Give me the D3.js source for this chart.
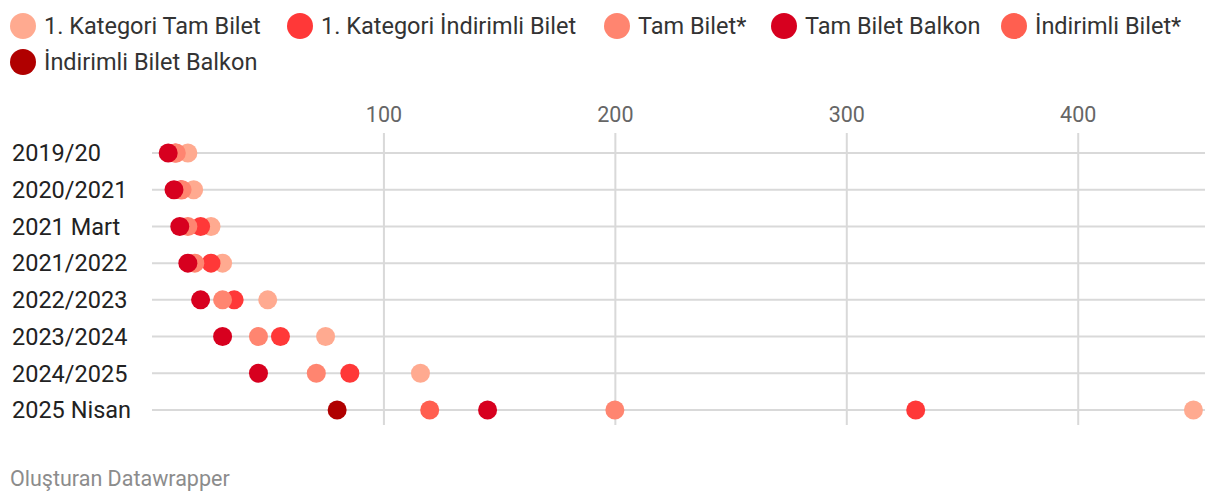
<!DOCTYPE html>
<html><head><meta charset="utf-8">
<script src="https://cdn.jsdelivr.net/npm/d3@7"></script>
<style>
html,body{margin:0;padding:0;background:#fff;}
svg{display:block;font-family:Roboto,"Noto Sans",sans-serif;}
</style></head>
<body>
<script>
const categories = ["2019/20","2020/2021","2021 Mart","2021/2022","2022/2023","2023/2024","2024/2025","2025 Nisan"];
const seriesNames = ["1. Kategori Tam Bilet","1. Kategori İndirimli Bilet","Tam Bilet*","Tam Bilet Balkon","İndirimli Bilet*","İndirimli Bilet Balkon"];
const seriesColors = ["#ffaa90","#ff3838","#ff8570","#d7001f","#ff5f50","#b00000"];
const kategoriTam      = [15.5, 18, 25.5, 30.5, 50, 75, 116, 450];
const kategoriIndirimli= [10, 12.5, 21, 25.5, 35.5, 55.5, 85.5, 330];
const tamBilet         = [10.5, 13, 15.5, 18.5, 30.5, 46, 71, 200];
const tamBalkon        = [7, 9.5, 12, 15.5, 21, 30.5, 46, 145];
const indirimliBilet   = [null, null, null, null, null, null, null, 120];
const indirimliBalkon  = [null, null, null, null, null, null, null, 80];
const xTicks = [100, 200, 300, 400];

const seriesValues = [kategoriTam, kategoriIndirimli, tamBilet, tamBalkon, indirimliBilet, indirimliBalkon];

const W = 1220, H = 502;
const svg = d3.select("body").append("svg").attr("width", W).attr("height", H);

// Legend
const legendItems = [
  {i:0, x:10, y:26}, {i:1, x:287, y:26}, {i:2, x:604, y:26},
  {i:3, x:771, y:26}, {i:4, x:1001, y:26}, {i:5, x:10, y:62}
];
const lg = svg.append("g");
legendItems.forEach(d => {
  lg.append("circle").attr("cx", d.x + 13).attr("cy", d.y).attr("r", 13)
    .attr("fill", seriesColors[d.i]);
  lg.append("text").attr("x", d.x + 34).attr("y", d.y).attr("dy", "0.35em")
    .attr("font-size", 23.5).attr("fill", "#333").text(seriesNames[d.i]);
});

// Scales
const x = d3.scaleLinear().domain([0, 455]).range([152, 1205]);
const y = d3.scalePoint().domain(categories).range([153, 410]);

// Vertical grid + top axis
const axis = d3.axisTop(x).tickValues(xTicks).tickSize(-(425 - 133)).tickFormat(d3.format("d"));
const ag = svg.append("g").attr("transform", "translate(0,133)").call(axis);
ag.select(".domain").remove();
ag.selectAll(".tick line").attr("stroke", "#d9d9d9").attr("stroke-width", 2);
ag.selectAll(".tick text").attr("font-size", 21.5).attr("fill", "#666").attr("y", -11)
  .attr("font-family", "Roboto, sans-serif");

// Row lines
svg.append("g").selectAll("line").data(categories).join("line")
  .attr("x1", x(0)).attr("x2", x(455))
  .attr("y1", d => y(d)).attr("y2", d => y(d))
  .attr("stroke", "#d9d9d9").attr("stroke-width", 2);

// Y labels
svg.append("g").selectAll("text").data(categories).join("text")
  .attr("x", 12).attr("y", d => y(d)).attr("dy", "0.35em")
  .attr("font-size", 23.5).attr("fill", "#222").text(d => d);

// Dots
seriesValues.forEach((vals, si) => {
  svg.append("g").selectAll("circle")
    .data(vals.map((v, ci) => ({v, c: categories[ci]})).filter(d => d.v != null))
    .join("circle")
    .attr("cx", d => x(d.v)).attr("cy", d => y(d.c)).attr("r", 9.5)
    .attr("fill", seriesColors[si]);
});

// Footer
svg.append("text").attr("x", 10).attr("y", 486).attr("font-size", 21.5)
  .attr("fill", "#8c8c8c").text("Oluşturan Datawrapper");
</script>
</body></html>
